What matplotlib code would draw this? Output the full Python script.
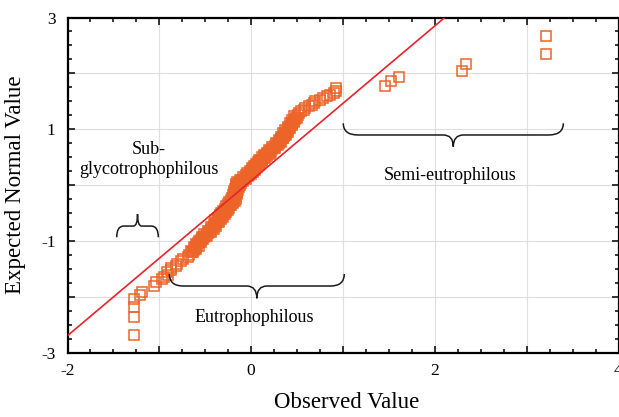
import matplotlib.pyplot as plt
from matplotlib.path import Path
from matplotlib.patches import PathPatch
from matplotlib.ticker import MultipleLocator, FuncFormatter

plt.rcParams['font.family'] = ['Liberation Serif', 'DejaVu Serif']
plt.rcParams['axes.unicode_minus'] = False

# lower tail
obs_low = [-1.273, -1.273, -1.273, -1.273, -1.210, -1.185, -1.055, -1.036, -0.974]
exp_low = [-2.672, -2.361, -2.182, -2.034, -1.968, -1.903, -1.796, -1.725, -1.682]

# dense middle part
obs_mid = [-0.95, -0.91, -0.92, -0.87, -0.87, -0.82, -0.81, -0.76, -0.74, -0.69,
           -0.68, -0.63, -0.65, -0.60, -0.62, -0.57, -0.60, -0.55, -0.57, -0.52,
           -0.54, -0.48, -0.51, -0.44, -0.47, -0.41, -0.44, -0.38, -0.41, -0.35,
           -0.39, -0.33, -0.36, -0.31, -0.34, -0.29, -0.33, -0.27, -0.31, -0.25,
           -0.29, -0.24, -0.27, -0.22, -0.25, -0.20, -0.24, -0.18, -0.22, -0.17,
           -0.21, -0.16, -0.20, -0.15, -0.19, -0.15, -0.19, -0.14, -0.18, -0.13,
           -0.17, -0.12, -0.16, -0.11, -0.15, -0.09, -0.12, -0.06, -0.09, -0.03,
           -0.06, 0.00, -0.04, 0.02, -0.01, 0.04, 0.01, 0.06, 0.03, 0.08,
           0.05, 0.10, 0.07, 0.12, 0.09, 0.15, 0.12, 0.17, 0.14, 0.20,
           0.17, 0.22, 0.19, 0.26, 0.23, 0.29, 0.27, 0.32, 0.30, 0.35,
           0.33, 0.38, 0.35, 0.40, 0.37, 0.42, 0.40, 0.45, 0.42, 0.47,
           0.45, 0.50, 0.47, 0.51, 0.52, 0.54, 0.57, 0.59, 0.63, 0.66,
           0.68, 0.70, 0.75, 0.78, 0.83, 0.86, 0.90, 0.92, 0.92]
exp_mid = [-1.64, -1.60, -1.56, -1.52, -1.48, -1.44, -1.40, -1.36, -1.32, -1.28,
           -1.24, -1.20, -1.17, -1.14, -1.11, -1.08, -1.05, -1.02, -0.99, -0.96,
           -0.93, -0.90, -0.87, -0.84, -0.81, -0.78, -0.75, -0.72, -0.69, -0.66,
           -0.63, -0.60, -0.58, -0.56, -0.54, -0.52, -0.50, -0.48, -0.46, -0.44,
           -0.42, -0.40, -0.38, -0.36, -0.34, -0.32, -0.30, -0.28, -0.26, -0.24,
           -0.22, -0.20, -0.18, -0.16, -0.14, -0.12, -0.10, -0.08, -0.06, -0.04,
           -0.02, 0.00, 0.02, 0.04, 0.06, 0.08, 0.10, 0.12, 0.14, 0.16,
           0.18, 0.20, 0.22, 0.24, 0.26, 0.28, 0.30, 0.32, 0.34, 0.36,
           0.38, 0.40, 0.42, 0.44, 0.46, 0.48, 0.50, 0.52, 0.54, 0.56,
           0.58, 0.60, 0.63, 0.66, 0.69, 0.72, 0.75, 0.78, 0.81, 0.84,
           0.87, 0.90, 0.93, 0.96, 0.99, 1.02, 1.05, 1.08, 1.11, 1.14,
           1.17, 1.20, 1.23, 1.26, 1.29, 1.32, 1.35, 1.38, 1.41, 1.44,
           1.47, 1.50, 1.53, 1.56, 1.59, 1.62, 1.65, 1.69, 1.74]

# overlapping points in the solid core of the band
obs_core = [-0.64, -0.625, -0.61, -0.60, -0.585, -0.575, -0.56, -0.545, -0.53, -0.51,
            -0.495, -0.475, -0.455, -0.44, -0.425, -0.41, -0.395, -0.38, -0.37, -0.355,
            -0.345, -0.33, -0.315, -0.30, -0.29, -0.275, -0.265, -0.25, -0.235, -0.22,
            -0.21, -0.20, -0.19, -0.18, -0.175, -0.17, -0.165, -0.16, -0.155, -0.145,
            -0.14, -0.13, -0.115, -0.095, -0.07, -0.045, -0.025, -0.01, 0.005, 0.02,
            0.035, 0.05, 0.065, 0.085, 0.10, 0.115, 0.135, 0.155, 0.17, 0.185,
            0.205, 0.225, 0.245, 0.26, 0.28, 0.30, 0.315, 0.33, 0.345, 0.36,
            0.37, 0.38, 0.39, 0.40, 0.415, 0.425, 0.44, 0.45, 0.465, 0.475, 0.49]
exp_core = [-1.19, -1.16, -1.13, -1.10, -1.07, -1.04, -1.01, -0.98, -0.95, -0.92,
            -0.89, -0.86, -0.83, -0.80, -0.77, -0.74, -0.71, -0.68, -0.65, -0.62,
            -0.59, -0.56, -0.53, -0.50, -0.47, -0.44, -0.41, -0.38, -0.35, -0.32,
            -0.29, -0.26, -0.23, -0.20, -0.17, -0.14, -0.11, -0.08, -0.05, -0.02,
            0.01, 0.04, 0.07, 0.10, 0.13, 0.16, 0.19, 0.22, 0.25, 0.28,
            0.31, 0.34, 0.37, 0.40, 0.43, 0.46, 0.49, 0.52, 0.55, 0.58,
            0.61, 0.64, 0.67, 0.70, 0.73, 0.76, 0.79, 0.82, 0.85, 0.88,
            0.91, 0.94, 0.97, 1.00, 1.03, 1.06, 1.09, 1.12, 1.15, 1.18, 1.21]

# upper tail
obs_high = [1.457, 1.520, 1.607, 2.299, 2.336, 3.207, 3.207]
exp_high = [1.780, 1.859, 1.941, 2.043, 2.174, 2.353, 2.669]

obs = obs_low + obs_mid + obs_core + obs_high
expected = exp_low + exp_mid + exp_core + exp_high

# reference normal line
line_b = 0.08
line_m = 1.385

# braces: left x, right x, arm ends, middle bar, tip
brace_x0 = [-1.464, -0.891, 1.003]
brace_x1 = [-1.011, 1.014, 3.399]
brace_end = [-0.93, -1.587, 1.108]
brace_mid = [-0.73, -1.802, 0.899]
brace_tip = [-0.515, -2.022, 0.690]
brace_rend = [0.075, 0.15, 0.16]
brace_rtip = [0.045, 0.11, 0.11]

labels = ['Sub-\nglycotrophophilous', 'Eutrophophilous', 'Semi-eutrophilous']
label_x = [-1.112, 0.031, 2.165]
label_y = [0.461, -2.374, 0.17]

orange = '#EC6428'
red = '#E8232B'

fig = plt.figure(figsize=(6.19, 4.17), dpi=100)
ax = fig.add_axes([67.5/619, 64/417, 551/619, 335.5/417])

ax.plot(obs, expected, 's', mfc='none', mec=orange, ms=6.8, mew=1.1, zorder=3)
ax.axline((0, line_b), slope=line_m, color=red, lw=1.2, zorder=4)


def brace(x0, x1, ye, ym, yt, re, rt):
    xm = (x0 + x1) / 2
    verts = [(x0, ye), (x0, ym), (x0 + re, ym), (xm - rt, ym), (xm, ym), (xm, yt),
             (xm, ym), (xm + rt, ym), (x1 - re, ym), (x1, ym), (x1, ye)]
    codes = [Path.MOVETO, Path.CURVE3, Path.CURVE3, Path.LINETO, Path.CURVE3, Path.CURVE3,
             Path.CURVE3, Path.CURVE3, Path.LINETO, Path.CURVE3, Path.CURVE3]
    ax.add_patch(PathPatch(Path(verts, codes), fc='none', ec='#1a1a1a', lw=1.1, zorder=5))


for i in range(3):
    brace(brace_x0[i], brace_x1[i], brace_end[i], brace_mid[i], brace_tip[i],
          brace_rend[i], brace_rtip[i])

for i in range(3):
    ax.text(label_x[i], label_y[i], labels[i], ha='center', va='center',
            multialignment='center', fontsize=13, linespacing=1.2, zorder=6)

ax.set_xlim(-2, 4)
ax.set_ylim(-3, 3)
ax.xaxis.set_major_locator(MultipleLocator(1))
ax.xaxis.set_minor_locator(MultipleLocator(0.25))
ax.yaxis.set_major_locator(MultipleLocator(1))
ax.yaxis.set_minor_locator(MultipleLocator(0.25))
ax.xaxis.set_major_formatter(FuncFormatter(lambda v, p: '%d' % round(v) if round(v) % 2 == 0 else ''))
ax.yaxis.set_major_formatter(FuncFormatter(lambda v, p: '%d' % round(v) if round(v) % 2 != 0 else ''))

ax.grid(True, which='major', color='#dedede', lw=0.8)
ax.set_axisbelow(True)
ax.tick_params(which='both', direction='in', top=True, right=True, width=1.1, labelsize=12.5)
ax.tick_params(which='major', length=5)
ax.tick_params(which='minor', length=3)
ax.tick_params(axis='x', pad=7)
ax.tick_params(axis='y', pad=8.5)
for s in ax.spines.values():
    s.set_linewidth(1.6)

ax.set_xlabel('Observed Value', fontsize=16.5)
ax.set_ylabel('Expected Normal Value', fontsize=16.5)
ax.xaxis.set_label_coords(0.507, -0.115)
ax.yaxis.set_label_coords(-0.0753, 0.5)

fig.savefig('out.png', dpi=100)
